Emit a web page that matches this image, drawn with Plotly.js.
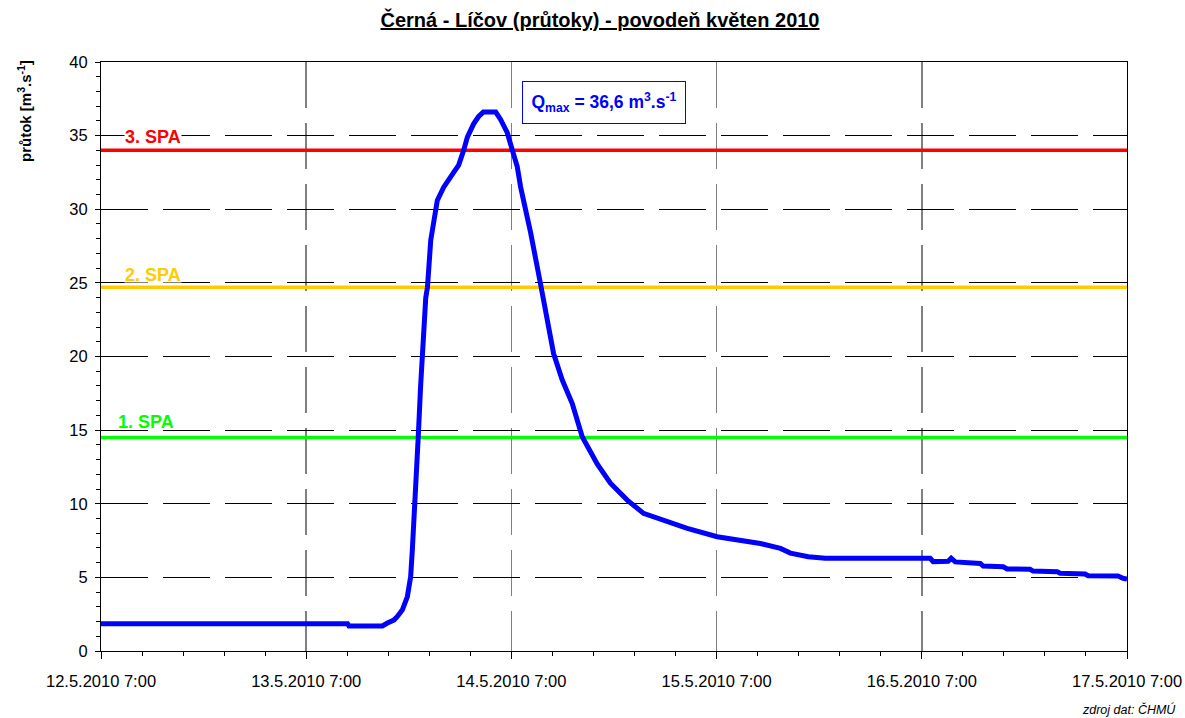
<!DOCTYPE html>
<html>
<head>
<meta charset="utf-8">
<script src="https://cdn.plot.ly/plotly-3.0.1.min.js"></script>
<style>html,body{margin:0;padding:0;background:#fff;}#chart{width:1185px;height:718px;}</style>
</head>
<body>
<div id="chart"></div>
<script>
// Flow series (time, discharge m3/s)
const times = [
  '2010-05-12 07:00','2010-05-13 11:50','2010-05-13 12:00','2010-05-13 15:55','2010-05-13 16:30',
  '2010-05-13 17:15','2010-05-13 17:40','2010-05-13 18:15','2010-05-13 18:50','2010-05-13 19:13',
  '2010-05-13 19:25','2010-05-13 19:37','2010-05-13 19:49','2010-05-13 20:06','2010-05-13 20:23',
  '2010-05-13 20:41','2010-05-13 20:59','2010-05-13 21:11','2010-05-13 21:34','2010-05-13 22:20',
  '2010-05-13 23:05','2010-05-14 00:15','2010-05-14 00:50','2010-05-14 01:25','2010-05-14 01:51',
  '2010-05-14 02:35','2010-05-14 03:10','2010-05-14 03:43','2010-05-14 05:10','2010-05-14 05:44',
  '2010-05-14 06:31','2010-05-14 07:07','2010-05-14 07:41','2010-05-14 08:05','2010-05-14 08:26',
  '2010-05-14 09:15','2010-05-14 10:25','2010-05-14 11:00','2010-05-14 11:56','2010-05-14 12:57',
  '2010-05-14 14:07','2010-05-14 15:17','2010-05-14 17:02','2010-05-14 18:35','2010-05-14 20:33',
  '2010-05-14 22:27','2010-05-15 01:13','2010-05-15 03:34','2010-05-15 07:04','2010-05-15 09:47',
  '2010-05-15 12:07','2010-05-15 14:28','2010-05-15 15:38','2010-05-15 17:44','2010-05-15 19:43',
  '2010-05-16 07:59','2010-05-16 08:20','2010-05-16 10:05','2010-05-16 10:26','2010-05-16 10:55',
  '2010-05-16 13:50','2010-05-16 14:11','2010-05-16 16:31','2010-05-16 16:59','2010-05-16 19:40',
  '2010-05-16 20:01','2010-05-16 22:50','2010-05-16 23:11','2010-05-17 02:06','2010-05-17 02:27',
  '2010-05-17 05:57','2010-05-17 06:32','2010-05-17 07:00'
];
const flow = [
  1.85,1.85,1.70,1.70,1.90,
  2.10,2.35,2.80,3.70,5.05,
  6.90,8.90,10.25,14.5,18.0,
  21.5,24.0,24.7,27.9,30.6,
  31.5,32.5,33.0,34.0,34.9,
  35.8,36.3,36.6,36.6,36.1,
  35.2,34.0,32.9,31.5,30.6,
  28.4,24.9,22.9,20.2,18.4,
  16.8,14.55,12.7,11.4,10.25,
  9.35,8.78,8.33,7.76,7.5,
  7.3,6.97,6.65,6.4,6.3,
  6.3,6.07,6.1,6.3,6.05,
  5.95,5.77,5.72,5.57,5.55,
  5.43,5.39,5.28,5.23,5.11,
  5.09,4.94,4.89
];
// Flood activity levels (SPA)
const spaLabels = ['1. SPA','2. SPA','3. SPA'];
const spaValues = [14.5, 24.7, 34.0];
const spaColors = ['#00ff00','#ffcc00','#ff0000'];
const spaLabelY = [15.58, 25.57, 34.94];
const xRange = ['2010-05-12 07:00','2010-05-17 07:00'];
const qmaxText = '<b>Q<sub>max</sub> = 36,6 m<sup>3</sup>.s<sup>-1</sup></b>';
const titleText = '<b><u>Černá - Líčov (průtoky) - povodeň květen 2010</u></b>';
const yTitleText = '<b>průtok [m<sup>3</sup>.s<sup>-1</sup>]</b>';
const sourceText = '<i>zdroj dat: ČHMÚ</i>';

const FONT = 'Liberation Sans, Arial, sans-serif';

const traces = [];
spaValues.forEach((v, i) => {
  traces.push({
    x: xRange, y: [v, v], mode: 'lines', type: 'scatter',
    line: {color: spaColors[i], width: 3.5}, hoverinfo: 'skip', showlegend: false
  });
});
traces.push({
  x: times, y: flow, mode: 'lines', type: 'scatter',
  line: {color: '#0000ff', width: 5}, showlegend: false
});

const annotations = spaLabels.map((t, i) => ({
  text: '<b>' + t + '</b>', xref: 'paper', yref: 'y',
  x: i === 0 ? 0.0155 : 0.0225, y: spaLabelY[i], xanchor: 'left', yanchor: 'middle',
  showarrow: false, font: {family: FONT, size: 18, color: spaColors[i]},
  bgcolor: '#ffffff', borderpad: 0, height: 15
}));
annotations.push({
  text: qmaxText, xref: 'paper', yref: 'paper', x: 0.490, y: 0.932,
  xanchor: 'center', yanchor: 'middle', showarrow: false,
  font: {family: FONT, size: 17.5, color: '#0000ff'},
  bgcolor: '#ffffff', bordercolor: '#0000ff', borderwidth: 1, width: 160, height: 39
});
annotations.push({
  text: yTitleText, xref: 'paper', yref: 'paper',
  x: (24 - 101) / 1026, y: (651 - 111) / 589, xanchor: 'center', yanchor: 'middle',
  textangle: -90, showarrow: false, font: {family: FONT, size: 15, color: '#000'}
});
annotations.push({
  text: sourceText, xref: 'paper', yref: 'paper',
  x: (1177 - 101) / 1026, y: (651 - 709) / 589, xanchor: 'right', yanchor: 'middle',
  showarrow: false, font: {family: FONT, size: 12.5, color: '#000'}, borderpad: 0
});

const layout = {
  width: 1185, height: 718,
  margin: {l: 101, r: 58, t: 62, b: 67},
  paper_bgcolor: '#ffffff', plot_bgcolor: '#ffffff',
  font: {family: FONT, size: 16, color: '#000'},
  title: {
    text: titleText, font: {family: FONT, size: 20, color: '#000'},
    x: 600 / 1185, xref: 'container', xanchor: 'center',
    y: 1 - 20 / 718, yref: 'container', yanchor: 'middle'
  },
  xaxis: {
    type: 'date', range: xRange, tick0: xRange[0], dtick: 86400000,
    tickformat: '%-d.%-m.%Y %-H:%M', ticks: 'outside', ticklen: 7, tickcolor: '#000',
    ticklabelstandoff: 8,
    showline: true, linecolor: '#000', linewidth: 1, mirror: true,
    showgrid: true, gridcolor: '#808080', gridwidth: 1.5, griddash: '46px,15px',
    zeroline: false,
    minor: {tick0: xRange[0], dtick: 17280000, ticks: 'outside', ticklen: 4, tickcolor: '#000', showgrid: false},
    tickfont: {family: FONT, size: 16.5, color: '#000'}
  },
  yaxis: {
    range: [0, 40], dtick: 5, tick0: 0, ticks: 'outside', ticklen: 5, tickcolor: '#000',
    ticklabelstandoff: 4,
    showline: true, linecolor: '#000', linewidth: 1, mirror: true,
    showgrid: true, gridcolor: '#000', gridwidth: 1, griddash: '47px,15px',
    zeroline: false,
    minor: {dtick: 1, ticks: 'outside', ticklen: 4, tickcolor: '#000', showgrid: false},
    tickfont: {family: FONT, size: 16.5, color: '#000'}
  },
  annotations: annotations,
  showlegend: false
};

Plotly.newPlot('chart', traces, layout, {staticPlot: true, displayModeBar: false});
</script>
</body>
</html>
